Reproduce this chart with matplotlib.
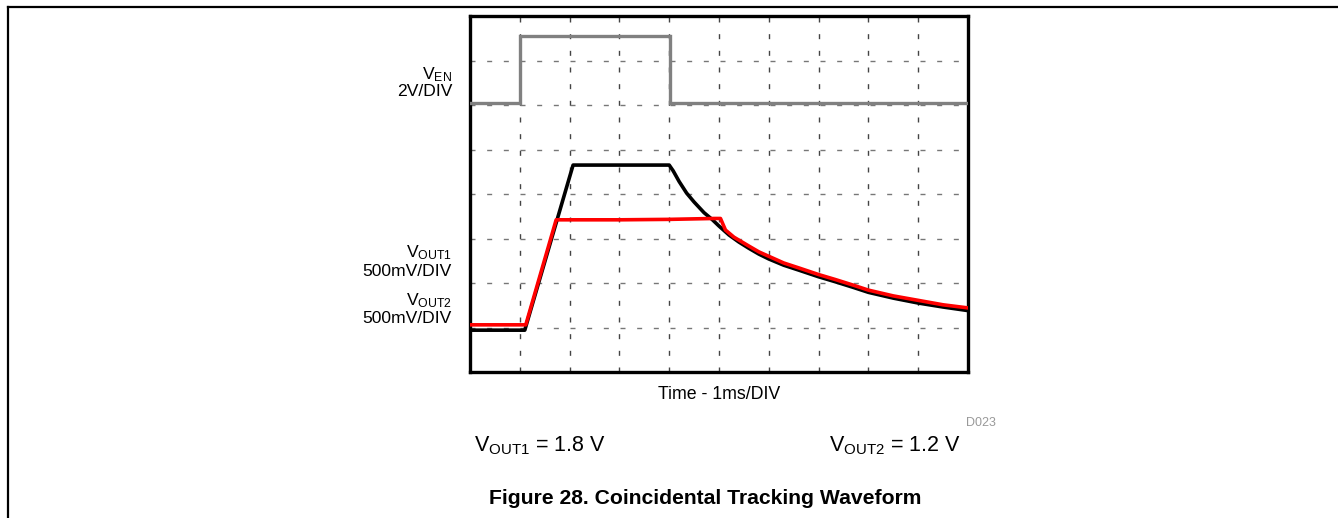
import matplotlib
matplotlib.use("Agg")
import matplotlib.pyplot as plt
from matplotlib.lines import Line2D

plt.rcParams['font.family'] = ['Liberation Sans', 'DejaVu Sans']
plt.rcParams['mathtext.fontset'] = 'custom'
plt.rcParams['mathtext.rm'] = 'Liberation Sans'
plt.rcParams['mathtext.it'] = 'Liberation Sans:italic'
plt.rcParams['mathtext.bf'] = 'Liberation Sans:bold'

# ---- data (in scope divisions: x 0..10, y 0..8) ----
t_en = [0, 1.01, 1.01, 4.01, 4.01, 10.0]
v_en = [6.04, 6.04, 7.56, 7.56, 6.04, 6.04]

t_out1 = [0, 1.10, 2.07, 4.00, 4.08, 4.20, 4.35, 4.50, 4.70, 4.86, 5.00, 5.20,
          5.40, 5.60, 5.80, 6.00, 6.30, 6.60, 7.00, 7.33, 7.70, 8.00, 8.50,
          9.00, 9.50, 10.0]
v_out1 = [0.94, 0.94, 4.65, 4.65, 4.52, 4.28, 4.02, 3.82, 3.58, 3.43, 3.28, 3.08,
          2.92, 2.78, 2.65, 2.54, 2.40, 2.29, 2.14, 2.03, 1.90, 1.79, 1.66,
          1.55, 1.46, 1.38]

t_out2 = [0, 1.12, 1.73, 3.00, 4.00, 4.90, 5.03, 5.13, 5.30, 5.60, 5.80, 6.00,
          6.30, 6.60, 7.00, 7.33, 7.70, 8.00, 8.50, 9.00, 9.50, 10.0]
v_out2 = [1.06, 1.06, 3.42, 3.42, 3.43, 3.45, 3.45, 3.19, 3.03, 2.83, 2.70, 2.60,
          2.45, 2.34, 2.19, 2.08, 1.95, 1.84, 1.71, 1.61, 1.51, 1.44]

x_divs = list(range(1, 10))
y_divs = list(range(1, 8))

W, H = 1338, 518
fig = plt.figure(figsize=(W / 100, H / 100), dpi=100)

def px(x, y):
    return x / W, 1 - y / H

# outer frame lines
fig.add_artist(Line2D([8 / W, 1.0], [1 - 7 / H, 1 - 7 / H], color='black', lw=1.6,
                      transform=fig.transFigure))
fig.add_artist(Line2D([8 / W, 8 / W], [1 - 7 / H, 0], color='black', lw=1.6,
                      transform=fig.transFigure))

ax = fig.add_axes([470 / W, 1 - 372 / H, 498 / W, 356 / H])
ax.set_xlim(0, 10)
ax.set_ylim(0, 8)
ax.set_xticks(x_divs)
ax.set_yticks(y_divs)
ax.tick_params(length=0, labelbottom=False, labelleft=False)
ax.xaxis.grid(True, color='#444444', lw=1.0, linestyle=(0, (3.6, 8.4)))
ax.yaxis.grid(True, color='#777777', lw=1.0, linestyle=(0, (3.6, 8.4)))
ax.set_axisbelow(True)
for s in ax.spines.values():
    s.set_linewidth(2.4)
    s.set_color('black')

ax.plot(t_en, v_en, color='#808080', lw=2.4, solid_joinstyle='miter', zorder=3)
ax.plot(t_out1, v_out1, color='black', lw=2.6, zorder=4)
ax.plot(t_out2, v_out2, color='#ff0000', lw=2.6, zorder=5)

fs = 12.6
# left labels
fig.text(*px(452, 79), r'$\mathrm{V_{EN}}$', ha='right', va='baseline', fontsize=fs)
fig.text(*px(452, 96.5), '2V/DIV', ha='right', va='baseline', fontsize=fs)
fig.text(*px(452, 257), r'$\mathrm{V_{OUT1}}$', ha='right', va='baseline', fontsize=fs)
fig.text(*px(452, 276.5), '500mV/DIV', ha='right', va='baseline', fontsize=fs)
fig.text(*px(452, 305.5), r'$\mathrm{V_{OUT2}}$', ha='right', va='baseline', fontsize=fs)
fig.text(*px(452, 323), '500mV/DIV', ha='right', va='baseline', fontsize=fs)

# bottom texts
fig.text(*px(719, 399), 'Time - 1ms/DIV', ha='center', va='baseline', fontsize=12.8)
fig.text(*px(996, 426), 'D023', ha='right', va='baseline', fontsize=9, color='#999999')
fig.text(*px(474, 451), r'$\mathrm{V_{OUT1}}$ = 1.8 V', ha='left', va='baseline', fontsize=15.5)
fig.text(*px(961, 451), r'$\mathrm{V_{OUT2}}$ = 1.2 V', ha='right', va='baseline', fontsize=15.5)
fig.text(*px(705, 504), 'Figure 28. Coincidental Tracking Waveform', ha='center',
         va='baseline', fontsize=15.2, fontweight='bold')

fig.savefig('out.png', dpi=100)
